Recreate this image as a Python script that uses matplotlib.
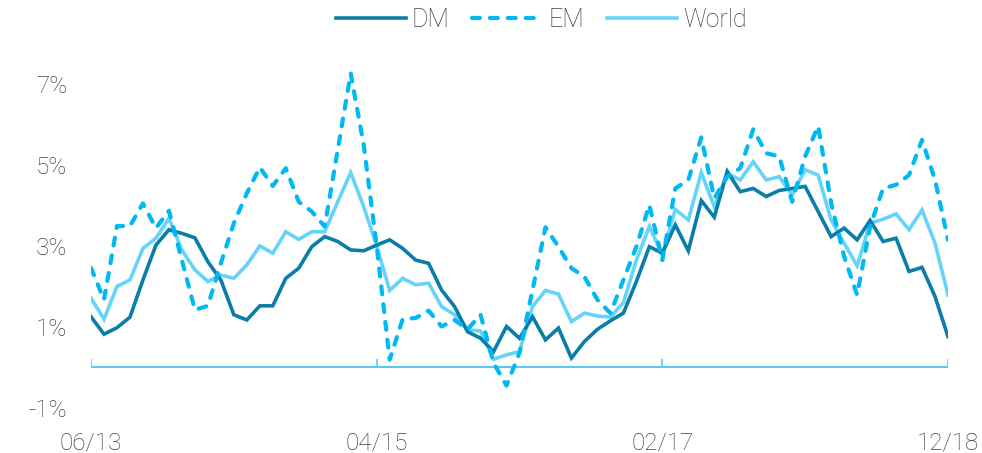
import matplotlib
matplotlib.use("Agg")
import matplotlib.pyplot as plt
import pandas as pd

months = [d.strftime("%m/%y") for d in pd.date_range("2013-06-01", "2018-12-01", freq="MS")]

dm = [1.25, 0.82, 0.98, 1.24, 2.16, 3.02, 3.40, 3.31, 3.20, 2.61,
      2.16, 1.30, 1.17, 1.52, 1.52, 2.20, 2.45, 2.98, 3.23, 3.11,
      2.90, 2.88, 3.02, 3.15, 2.94, 2.65, 2.57, 1.91, 1.50, 0.88,
      0.72, 0.39, 1.01, 0.72, 1.25, 0.68, 0.97, 0.23, 0.64, 0.94,
      1.15, 1.34, 2.12, 2.98, 2.82, 3.52, 2.88, 4.12, 3.71, 4.84,
      4.34, 4.42, 4.22, 4.37, 4.42, 4.47, 3.85, 3.23, 3.44, 3.15,
      3.63, 3.11, 3.19, 2.37, 2.47, 1.75, 0.76]

em = [2.46, 1.67, 3.49, 3.49, 4.05, 3.44, 3.87, 2.65, 1.42, 1.52,
      2.57, 3.56, 4.30, 4.94, 4.48, 4.92, 4.09, 3.85, 3.48, 5.37,
      7.26, 5.50, 3.00, 0.19, 1.19, 1.22, 1.40, 1.01, 1.17, 0.94,
      1.30, 0.11, -0.45, 0.36, 1.91, 3.46, 2.98, 2.45, 2.24, 1.67,
      1.34, 2.16, 2.98, 4.01, 2.65, 4.42, 4.63, 5.68, 4.18, 4.71,
      4.92, 5.88, 5.29, 5.21, 4.09, 5.21, 5.96, 4.06, 2.74, 1.79,
      3.48, 4.42, 4.51, 4.75, 5.62, 4.63, 3.15]

world = [1.71, 1.19, 2.00, 2.16, 2.94, 3.19, 3.68, 2.90, 2.41, 2.12,
         2.28, 2.20, 2.53, 3.00, 2.82, 3.35, 3.16, 3.35, 3.35, 4.09,
         4.81, 3.97, 3.00, 1.90, 2.20, 2.04, 2.08, 1.50, 1.30, 0.93,
         0.90, 0.20, 0.31, 0.39, 1.50, 1.90, 1.81, 1.13, 1.34, 1.27,
         1.24, 1.60, 2.65, 3.48, 2.78, 3.90, 3.64, 4.81, 3.97, 4.79,
         4.63, 5.08, 4.63, 4.71, 4.26, 4.88, 4.75, 3.64, 3.07, 2.51,
         3.56, 3.66, 3.79, 3.40, 3.89, 3.07, 1.79]

xtick_labels = ["06/13", "04/15", "02/17", "12/18"]
ytick_values = [-1, 1, 3, 5, 7]

C_DM = "#0A7EA8"
C_EM = "#00B8F2"
C_WORLD = "#66D4FA"
C_AXIS = "#5CC8F0"
C_TEXT = "#404040"

plt.rcParams["font.family"] = ["Roboto", "DejaVu Sans"]
plt.rcParams["font.weight"] = "light"

fig = plt.figure(figsize=(9.82, 4.53), dpi=100)
ax = fig.add_axes([91 / 982, 1 - 420 / 453, (948 - 91) / 982, (420 - 43.5) / 453])

x = list(range(len(months)))
l_world, = ax.plot(x, world, color=C_WORLD, lw=2.6, solid_joinstyle="miter", zorder=2, label="World")
l_dm, = ax.plot(x, dm, color=C_DM, lw=2.6, solid_joinstyle="miter", zorder=3, label="DM")
l_em, = ax.plot(x, em, color=C_EM, lw=3.0, linestyle=(0, (1.9, 2.4)),
                dash_capstyle="round", zorder=4, label="EM")

# baseline axis at 0 with upward ticks
xt = [months.index(t) for t in xtick_labels]
ax.hlines(0, x[0], x[-1], color=C_AXIS, lw=1.5, zorder=1)
ax.vlines(xt, 0, 0.2, color=C_AXIS, lw=1.2, zorder=1)

ax.set_xlim(x[0], x[-1])
ax.set_ylim(-1.3, 8)
ax.set_xticks(xt)
ax.set_xticklabels(xtick_labels)
ax.set_yticks(ytick_values)
ax.set_yticklabels([f"{v}%" for v in ytick_values])
ax.tick_params(axis="both", length=0, labelsize=17.5, colors=C_TEXT)
ax.tick_params(axis="y", pad=17)
ax.tick_params(axis="x", pad=8)
for s in ax.spines.values():
    s.set_visible(False)

fig.legend(handles=[l_dm, l_em, l_world], loc="center", bbox_to_anchor=(541 / 982, 1 - 20 / 453),
           ncol=3, frameon=False, fontsize=18, handlelength=2.8, handletextpad=0.25,
           columnspacing=0.9, labelcolor=C_TEXT)

fig.savefig("out.png", dpi=100)
